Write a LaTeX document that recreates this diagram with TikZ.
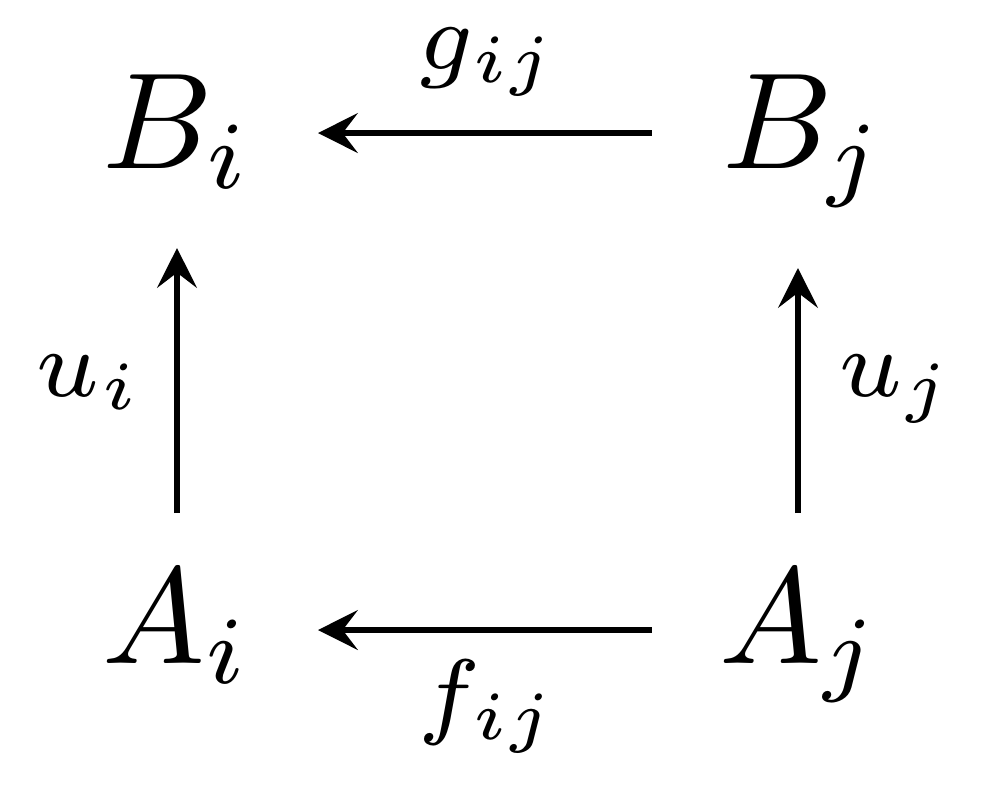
\documentclass[tikz,border=0pt]{standalone}
\usetikzlibrary{arrows.meta}
\begin{document}
\begin{tikzpicture}[x=0.073pt,y=-0.073pt,
  obj/.style={inner sep=0pt,anchor=base west,font=\fontsize{10pt}{12pt}\selectfont},
  lab/.style={inner sep=0pt,anchor=base west,font=\fontsize{10pt}{12pt}\selectfont},
  arr/.style={line width=0.4pt,-{Stealth[length=2.9pt,width=2.9pt,inset=1.1pt]}}]
\useasboundingbox (0,0) rectangle (982,791);
% objects
\node[obj] (Bi) at (100,168) {$B_i$};
\node[obj] (Bj) at (720,168) {$B_j$};
\node[obj] (Ai) at (100,663) {$A_i$};
\node[obj] (Aj) at (717,663) {$A_j$};
% arrow ends
\coordinate (gS) at (652,133);
\coordinate (gT) at (318,133);
\coordinate (fS) at (652,630);
\coordinate (fT) at (318,630);
\coordinate (uiS) at (177,513);
\coordinate (uiT) at (177,248);
\coordinate (ujS) at (798,513);
\coordinate (ujT) at (798,268);
\draw[arr] (gS) -- (gT);
\draw[arr] (fS) -- (fT);
\draw[arr] (uiS) -- (uiT);
\draw[arr] (ujS) -- (ujT);
% labels
\node[lab] (g) at (415,69) {$\scriptstyle g_{ij}$};
\node[lab] (f) at (415,726) {$\scriptstyle f_{ij}$};
\node[lab] (ui) at (33,396) {$\scriptstyle u_i$};
\node[lab] (uj) at (836,396) {$\scriptstyle u_j$};
\end{tikzpicture}
\end{document}
